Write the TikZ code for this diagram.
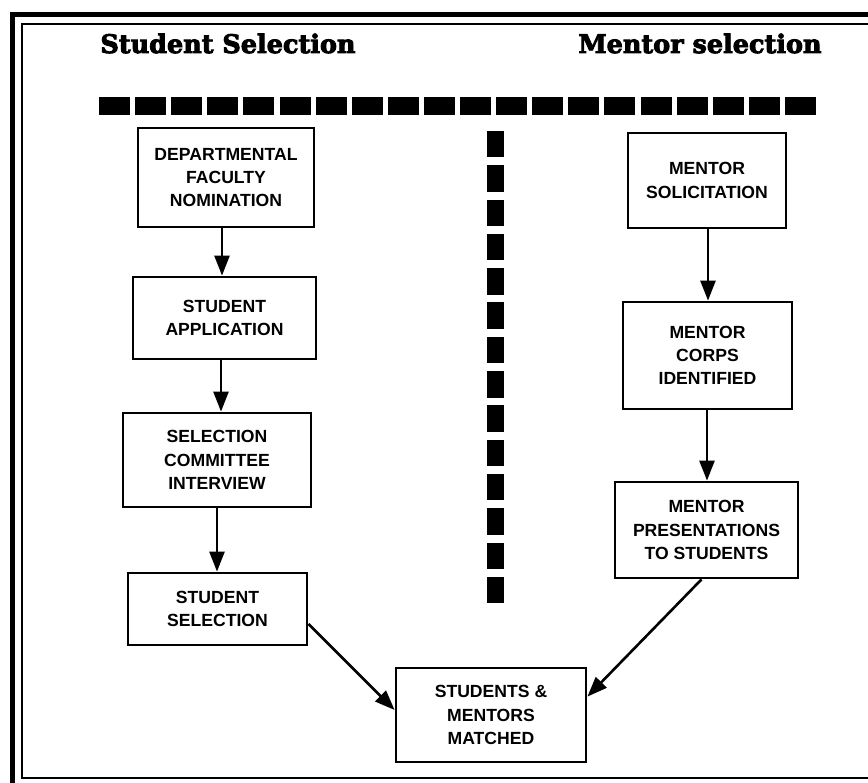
\documentclass[tikz,border=0pt]{standalone}
\usepackage{fontspec}
\setmainfont{Liberation Sans}
\newfontfamily\titlefont[BoldFeatures={FakeBold=3.5}]{DejaVu Serif}
\usetikzlibrary{arrows.meta,calc}
\tikzset{
  box/.style={draw, line width=2.8pt, inner sep=0pt, align=center,
    font=\bfseries\fontsize{17.6}{23.2}\selectfont},
  arr/.style={line width=2.6pt, -{Triangle[length=20pt,width=15pt]}},
  ttl/.style={anchor=base, inner sep=0pt, font=\titlefont\bfseries\fontsize{25.5}{30}\selectfont},
}
\begin{document}
\begin{tikzpicture}[x=1pt,y=-1pt]
\useasboundingbox (0,0) rectangle (868,783);
% frame
\draw[line width=5pt] (12.5,783) -- (12.5,15) -- (868,15);
\draw[line width=1.5pt] (868,24) -- (22,24) -- (22,778) -- (868,778);
% titles
\node[ttl] (st) at (228,53) {Student Selection};
\node[ttl] (mt) at (700,53) {Mentor selection};
% dashes
\foreach \i in {0,...,19} \fill (99+\i*36.1,97) rectangle ++(31,18);
\foreach \i in {0,...,13} \fill (487,131+\i*34.3) rectangle ++(17,26.5);
% boxes
\node[box, minimum width=176pt, minimum height=99pt] (dfn) at (226,177.5) {DEPARTMENTAL\\FACULTY\\NOMINATION};
\node[box, minimum width=183pt, minimum height=82pt] (sa) at (224.5,318) {STUDENT\\APPLICATION};
\node[box, minimum width=188pt, minimum height=94pt] (sci) at (217,460) {SELECTION\\COMMITTEE\\INTERVIEW};
\node[box, minimum width=179pt, minimum height=72pt] (ss) at (217.5,609) {STUDENT\\SELECTION};
\node[box, minimum width=190pt, minimum height=94pt] (sm) at (491,715) {STUDENTS \&\\MENTORS\\MATCHED};
\node[box, minimum width=158pt, minimum height=95pt] (ms) at (707,180.5) {MENTOR\\SOLICITATION};
\node[box, minimum width=169pt, minimum height=107pt] (mc) at (707.5,355.5) {MENTOR\\CORPS\\IDENTIFIED};
\node[box, minimum width=183pt, minimum height=96pt] (mp) at (706.5,530) {MENTOR\\PRESENTATIONS\\TO STUDENTS};
% arrows
\draw[arr] (dfn.south -| 222,0) -- (sa.north -| 222,0);
\draw[arr] (sa.south -| 221,0) -- (sci.north -| 221,0);
\draw[arr] (sci.south -| 217,0) -- (ss.north -| 217,0);
\draw[arr] (ms.south -| 708,0) -- (mc.north -| 708,0);
\draw[arr] (mc.south -| 707,0) -- (mp.north -| 707,0);
\draw[arr] ($(ss.east)!0.4!(ss.south east)$) -- ($(sm.west)+(0,-5)$);
\draw[arr] ($(mp.south)+(-5,0)$) -- ($(sm.east)!0.38!(sm.north east)$);
\end{tikzpicture}
\end{document}
